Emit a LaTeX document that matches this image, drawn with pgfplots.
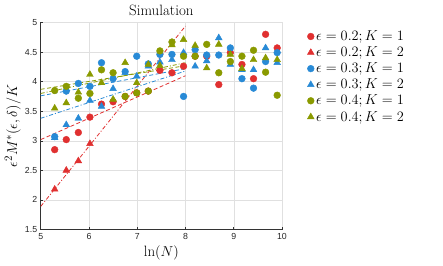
\documentclass[border=0pt]{standalone}
\usepackage{pgfplots}
\pgfplotsset{compat=1.18}
\usepackage{fontspec}
\newfontfamily\ticksans{Liberation Sans}
\definecolor{cred}{RGB}{224,48,48}
\definecolor{cblue}{RGB}{40,138,214}
\definecolor{cgreen}{RGB}{138,154,0}
\begin{document}
\begin{tikzpicture}
\path[use as bounding box] (-40.7bp,-36.5bp) rectangle (402.3bp,229.5bp);
\begin{axis}[
 scale only axis, width=241.3bp, height=207bp,
 xmin=5, xmax=10, ymin=1.5, ymax=5,
 xtick={5,6,7,8,9,10}, ytick={1.5,2,2.5,3,3.5,4,4.5,5},
 axis x line*=bottom, axis y line*=left,
 axis line style={color=black!80, line width=0.5pt, -},
 grid=major, major grid style={black!12, line width=0.4pt},
 tick align=inside, major tick length=2.5bp,
 tick style={black!80, line width=0.5pt},
 tick label style={font=\ticksans\fontsize{8.8}{10}\selectfont, text=black!85},
 /pgf/number format/assume math mode=true,
 title={Simulation}, title style={font=\fontsize{15}{18}\selectfont, yshift=-3bp},
 xlabel={$\ln(N)$}, ylabel={$\epsilon^2 M^*(\epsilon,\delta)/K$},
 label style={font=\fontsize{15}{18}\selectfont},
 ylabel style={yshift=-2.5bp},
 legend style={draw=none, fill=none, at={(1.092,0.98)}, anchor=north west,
   font=\fontsize{13.5}{16.8}\selectfont, row sep=0.8pt},
 legend cell align=left,
]
\addplot[only marks, mark=*, mark size=3.4bp, color=cred] coordinates {
(5.29,2.85) (5.53,3.02) (5.78,3.14) (6.02,3.40) (6.26,3.62) (6.50,3.66) (6.75,3.75) (6.99,3.81) (7.23,3.84) (7.47,4.19)
(7.72,4.15) (7.96,4.26) (8.20,4.43) (8.44,4.43) (8.69,3.95) (8.93,4.49) (9.17,4.29) (9.41,4.05) (9.66,4.80) (9.90,4.57)};
\addlegendentry{$\epsilon=0.2; K=1$}
\addplot[only marks, mark=triangle*, mark size=3.9bp, color=cred] coordinates {
(5.29,2.18) (5.53,2.50) (5.78,2.66) (6.02,2.95)};
\addlegendentry{$\epsilon=0.2; K=2$}
\addplot[only marks, mark=*, mark size=3.4bp, color=cblue] coordinates {
(5.29,3.07) (5.53,3.84) (5.78,3.97) (6.02,3.92) (6.26,4.32) (6.50,4.05) (6.75,4.17) (6.99,4.43) (7.23,4.30) (7.47,4.46)
(7.72,4.46) (7.96,3.75) (8.20,4.54) (8.44,4.45) (8.69,4.45) (8.93,4.57) (9.17,4.05) (9.41,3.89) (9.66,4.34) (9.90,4.49)};
\addlegendentry{$\epsilon=0.3; K=1$}
\addplot[only marks, mark=triangle*, mark size=3.9bp, color=cblue] coordinates {
(5.29,3.05) (5.53,3.27) (5.78,3.38) (6.02,3.68) (6.26,3.58) (6.50,3.88) (6.75,4.15) (6.99,4.09) (7.23,4.26) (7.47,4.33)
(7.72,4.37) (7.96,4.49) (8.20,4.26) (8.44,4.35) (8.69,4.74) (8.93,4.29) (9.17,4.20) (9.41,4.20) (9.66,4.57) (9.90,4.32)};
\addlegendentry{$\epsilon=0.3; K=2$}
\addplot[only marks, mark=*, mark size=3.4bp, color=cgreen] coordinates {
(5.29,3.85) (5.53,3.92) (5.78,3.72) (6.02,3.80) (6.26,4.20) (6.50,4.15) (6.75,3.75) (6.99,3.81) (7.23,3.84) (7.47,4.52)
(7.72,4.67) (7.96,4.43) (8.20,4.43) (8.44,4.63) (8.69,4.15) (8.93,4.34) (9.17,4.43) (9.41,4.53) (9.66,4.16) (9.90,3.77)};
\addlegendentry{$\epsilon=0.4; K=1$}
\addplot[only marks, mark=triangle*, mark size=3.9bp, color=cgreen] coordinates {
(5.29,3.55) (5.53,3.64) (5.78,3.82) (6.02,4.12) (6.26,3.98) (6.50,3.70) (6.75,4.32) (6.99,3.98) (7.23,4.29) (7.47,4.27)
(7.72,4.62) (7.96,4.71) (8.20,4.61) (8.44,4.23) (8.69,4.63) (8.93,4.46) (9.17,4.22) (9.41,4.37) (9.66,4.40) (9.90,4.37)};
\addlegendentry{$\epsilon=0.4; K=2$}
% fit lines
\addplot[forget plot, color=cred, line width=0.8pt, dash pattern=on 4bp off 2.5bp] coordinates {(5,3.02) (8,4.10)};
\addplot[forget plot, color=cred, line width=0.8pt, dash pattern=on 4bp off 2bp on 1bp off 2bp] coordinates {(5,1.89) (8,4.94)};
\addplot[forget plot, color=cblue, line width=0.8pt, dash pattern=on 4bp off 2.5bp] coordinates {(5,3.76) (8,4.22)};
\addplot[forget plot, color=cblue, line width=0.8pt, dash pattern=on 4bp off 2bp on 1bp off 2bp] coordinates {(5,3.38) (8,4.18)};
\addplot[forget plot, color=cgreen, line width=0.8pt, dash pattern=on 4bp off 2.5bp] coordinates {(5,3.87) (8,4.27)};
\addplot[forget plot, color=cgreen, line width=0.8pt, dash pattern=on 4bp off 2bp on 1bp off 2bp] coordinates {(5,3.80) (8,4.32)};
\end{axis}
\end{tikzpicture}
\end{document}
